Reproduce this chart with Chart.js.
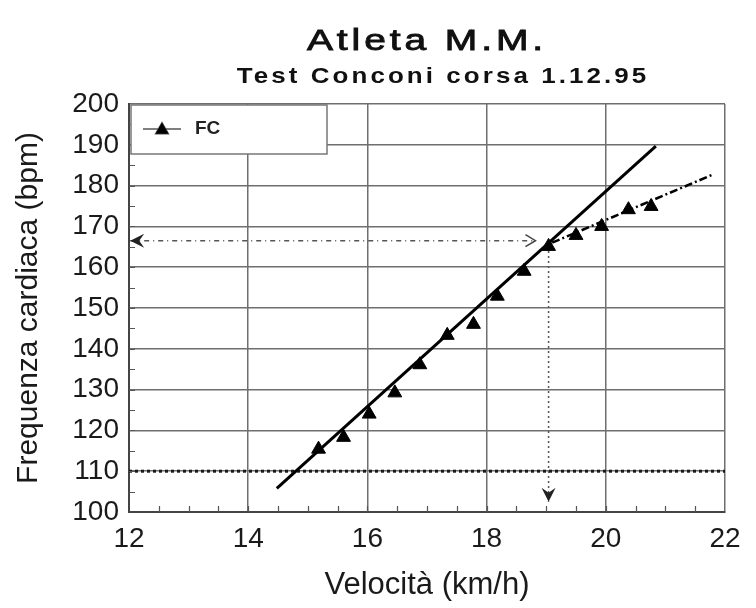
<!DOCTYPE html>
<html>
<head>
<meta charset="utf-8">
<script src="https://cdn.jsdelivr.net/npm/chart.js@4.4.1/dist/chart.umd.min.js"></script>
<style>
html,body{margin:0;padding:0;background:#fff;}
#wrap{width:756px;height:608px;position:relative;}
</style>
</head>
<body>
<div id="wrap"><canvas id="c" width="756" height="608"></canvas></div>
<script>
// ---- text ----
const titleText = 'Atleta M.M.';
const subtitleText = 'Test Conconi corsa 1.12.95';
const xAxisTitle = 'Velocità (km/h)';
const yAxisTitle = 'Frequenza cardiaca (bpm)';
const legendLabel = 'FC';

// ---- axes ----
const xRange = [12, 22];
const yRange = [100, 200];
const xStep = 2;
const yStep = 10;
const xMinorStep = 0.5;
const yMinorStep = 5;

// ---- measured points (FC) ----
const speed     = [15.18, 15.60, 16.03, 16.46, 16.88, 17.34, 17.78, 18.18, 18.63, 19.04, 19.50, 19.93, 20.38, 20.76];
const heartRate = [115.4, 118.3, 124.0, 129.2, 136.1, 143.3, 146.0, 152.9, 159.0, 165.1, 167.8, 170.0, 174.1, 174.9];

// ---- linear fit (solid) ----
const fitX = [14.48, 20.84];
const fitY = [105.8, 189.7];

// ---- deflection line (dash-dot) ----
const deflX = [19.10, 21.78];
const deflY = [166.0, 182.6];

// ---- threshold line at 110 bpm (dotted) ----
const thrX = [12, 22];
const thrY = [110, 110];

// ---- guide arrows from deflection point ----
const hArrowX = [12.02, 18.82];
const hArrowY = [166.5, 166.5];
const vArrowX = [19.04, 19.04];
const vArrowY = [164.0, 102.5];

const pts = (xs, ys) => xs.map((x, i) => ({x: x, y: ys[i]}));
const FONT = "'Liberation Sans', Arial, Helvetica, sans-serif";

const decor = {
  id: 'decor',
  afterDatasetsDraw(chart) {
    const ctx = chart.ctx;
    const xs = chart.scales.x, ys = chart.scales.y;
    const ca = chart.chartArea;
    ctx.save();
    // minor ticks (inward) on bottom and left axes
    ctx.strokeStyle = '#555';
    ctx.lineWidth = 1.2;
    ctx.beginPath();
    for (let v = xRange[0] + xMinorStep; v < xRange[1]; v += xMinorStep) {
      const px = Math.round(xs.getPixelForValue(v)) + 0.5;
      ctx.moveTo(px, ca.bottom);
      ctx.lineTo(px, ca.bottom - 6);
    }
    for (let v = yRange[0] + yMinorStep; v < yRange[1]; v += yMinorStep) {
      const py = Math.round(ys.getPixelForValue(v)) + 0.5;
      ctx.moveTo(ca.left, py);
      ctx.lineTo(ca.left + 6, py);
    }
    ctx.stroke();

    // arrowheads
    ctx.fillStyle = '#222';
    let tx = xs.getPixelForValue(hArrowX[0]), ty = ys.getPixelForValue(hArrowY[0]);
    ctx.beginPath();
    ctx.moveTo(tx, ty);
    ctx.lineTo(tx + 14, ty - 7);
    ctx.lineTo(tx + 9, ty);
    ctx.lineTo(tx + 14, ty + 7);
    ctx.closePath();
    ctx.fill();
    tx = xs.getPixelForValue(hArrowX[1]); ty = ys.getPixelForValue(hArrowY[1]);
    ctx.strokeStyle = '#444';
    ctx.lineWidth = 1.5;
    ctx.beginPath();
    ctx.moveTo(tx - 10, ty - 6);
    ctx.lineTo(tx, ty);
    ctx.lineTo(tx - 10, ty + 6);
    ctx.stroke();
    tx = xs.getPixelForValue(vArrowX[1]); ty = ys.getPixelForValue(vArrowY[1]);
    ctx.beginPath();
    ctx.moveTo(tx, ty);
    ctx.lineTo(tx - 7, ty - 14);
    ctx.lineTo(tx, ty - 9);
    ctx.lineTo(tx + 7, ty - 14);
    ctx.closePath();
    ctx.fill();

    // legend box
    const lx = ca.left + 2, ly = ca.top + 1, lw = 196, lh = 49;
    ctx.fillStyle = '#fff';
    ctx.fillRect(lx, ly, lw, lh);
    ctx.strokeStyle = '#777';
    ctx.lineWidth = 1.5;
    ctx.strokeRect(lx, ly, lw, lh);
    const my = ly + 24;
    ctx.strokeStyle = '#555';
    ctx.lineWidth = 1.3;
    ctx.beginPath();
    ctx.moveTo(lx + 12, my);
    ctx.lineTo(lx + 50, my);
    ctx.stroke();
    ctx.fillStyle = '#000';
    Chart.helpers.drawPoint(ctx, {pointStyle: 'triangle', radius: 7.5, borderWidth: 1, rotation: 0}, lx + 31, my + 1);
    ctx.fill();
    ctx.fillStyle = '#222';
    ctx.font = 'bold 19px ' + FONT;
    ctx.textAlign = 'left';
    ctx.textBaseline = 'middle';
    ctx.fillText(legendLabel, lx + 64, my);
    ctx.restore();
  },
  afterDraw(chart) {
    const ctx = chart.ctx;
    ctx.save();
    ctx.fillStyle = '#111';
    ctx.strokeStyle = '#111';
    ctx.textAlign = 'center';
    ctx.textBaseline = 'alphabetic';
    // main title
    ctx.save();
    ctx.translate(427, 50);
    ctx.scale(1.3, 1);
    ctx.font = '30px ' + FONT;
    try { ctx.letterSpacing = '3px'; } catch (e) {}
    ctx.lineWidth = 0.9;
    ctx.fillText(titleText, 0, 0);
    ctx.strokeText(titleText, 0, 0);
    ctx.restore();
    // subtitle
    ctx.save();
    ctx.translate(443, 83);
    ctx.scale(1.18, 1);
    ctx.font = 'bold 22px ' + FONT;
    try { ctx.letterSpacing = '2.6px'; } catch (e) {}
    ctx.fillText(subtitleText, 0, 0);
    ctx.restore();
    ctx.restore();
  }
};

new Chart(document.getElementById('c'), {
  type: 'scatter',
  data: {
    datasets: [
      {
        label: legendLabel,
        data: pts(speed, heartRate),
        showLine: false,
        pointStyle: 'triangle',
        pointRadius: 8,
        pointBorderWidth: 1,
        backgroundColor: '#000',
        borderColor: '#000',
        order: 0
      },
      {
        label: 'fit',
        data: pts(fitX, fitY),
        showLine: true,
        pointRadius: 0,
        borderColor: '#000',
        borderWidth: 3,
        order: 1
      },
      {
        label: 'deflection',
        data: pts(deflX, deflY),
        showLine: true,
        pointRadius: 0,
        borderColor: '#000',
        borderWidth: 2.5,
        borderDash: [8, 3, 2, 3],
        order: 2
      },
      {
        label: 'threshold',
        data: pts(thrX, thrY),
        showLine: true,
        pointRadius: 0,
        borderColor: '#1a1a1a',
        borderWidth: 3,
        borderDash: [3, 3],
        order: 3
      },
      {
        label: 'hGuide',
        data: pts(hArrowX, hArrowY),
        showLine: true,
        pointRadius: 0,
        borderColor: '#555',
        borderWidth: 1.5,
        borderDash: [5, 4, 1, 4],
        order: 4
      },
      {
        label: 'vGuide',
        data: pts(vArrowX, vArrowY),
        showLine: true,
        pointRadius: 0,
        borderColor: '#555',
        borderWidth: 1.5,
        borderDash: [2, 3],
        order: 5
      }
    ]
  },
  options: {
    responsive: false,
    animation: false,
    devicePixelRatio: 1,
    layout: { padding: { top: 104, right: 31, left: 0, bottom: 0 } },
    plugins: {
      legend: { display: false },
      title: { display: false },
      tooltip: { enabled: false }
    },
    scales: {
      x: {
        type: 'linear',
        min: xRange[0], max: xRange[1],
        afterFit(s) { s.height = 96; },
        ticks: {
          stepSize: xStep,
          color: '#1a1a1a',
          font: { family: FONT, size: 28 },
          padding: 10,
          maxRotation: 0,
          autoSkip: false
        },
        grid: { color: '#6f6f6f', lineWidth: 1.5, drawTicks: false },
        border: { display: true, color: '#444', width: 2 },
        title: {
          display: true,
          text: xAxisTitle,
          color: '#1a1a1a',
          font: { family: FONT, size: 31 },
          padding: { top: 0, bottom: 4 }
        }
      },
      y: {
        type: 'linear',
        min: yRange[0], max: yRange[1],
        afterFit(s) { s.width = 129; },
        ticks: {
          stepSize: yStep,
          color: '#1a1a1a',
          font: { family: FONT, size: 28 },
          padding: 10,
          autoSkip: false
        },
        grid: { color: '#6f6f6f', lineWidth: 1.5, drawTicks: false },
        border: { display: true, color: '#444', width: 2 },
        title: {
          display: true,
          text: yAxisTitle,
          color: '#1a1a1a',
          font: { family: FONT, size: 30 },
          padding: { top: 11, bottom: 0 }
        }
      }
    }
  },
  plugins: [decor]
});
</script>
</body>
</html>
